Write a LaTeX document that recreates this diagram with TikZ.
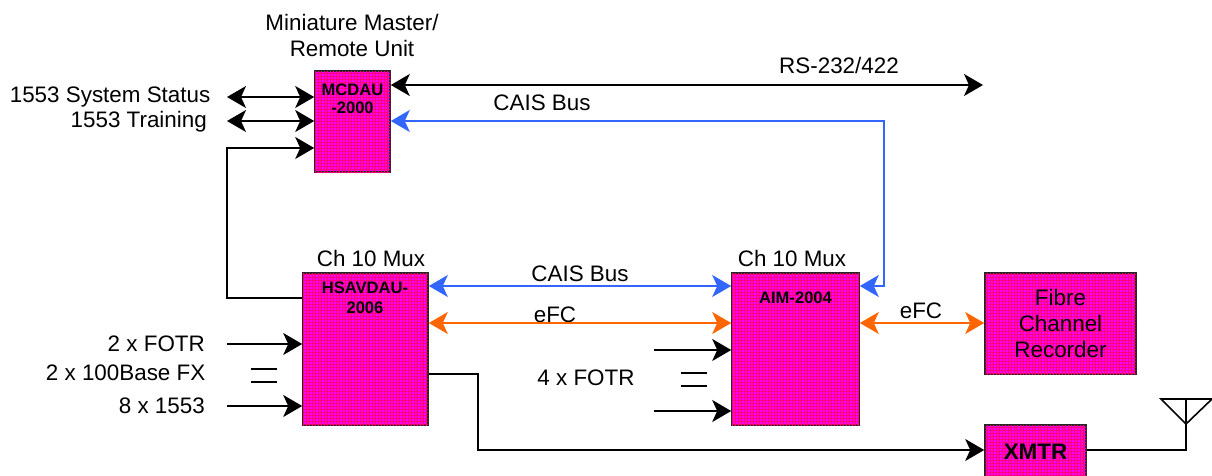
\documentclass[tikz,border=0pt]{standalone}
\usepackage{fontspec}
\setmainfont{Liberation Sans}
\usetikzlibrary{arrows.meta,patterns.meta}
\definecolor{boxmag}{RGB}{255,0,255}
\definecolor{boxred}{RGB}{255,0,110}
\definecolor{caisblue}{RGB}{51,102,255}
\definecolor{efcorange}{RGB}{255,102,0}
\tikzset{
  unitbox/.style={draw=black!85,line width=1.6pt,rectangle,inner sep=0pt,fill=boxmag,
    postaction={pattern={Lines[angle=0,distance=3pt,line width=0.55pt]},pattern color=boxred},
    postaction={pattern={Lines[angle=90,distance=3pt,line width=0.55pt]},pattern color=boxred}},
  boxtext/.style={font=\fontsize{16.6}{20}\selectfont\bfseries,align=center,inner sep=0pt},
  txt/.style={font=\fontsize{22.4}{26}\selectfont,align=center,inner sep=0pt},
  link/.style={line width=1.6pt,-{Stealth[length=19pt,width=22pt,inset=5pt]}},
  linkboth/.style={line width=1.6pt,{Stealth[length=19pt,width=22pt,inset=5pt]}-{Stealth[length=19pt,width=22pt,inset=5pt]}},
  wire/.style={line width=1.6pt}
}
\begin{document}
\begin{tikzpicture}[x=1pt,y=-1pt]
  \useasboundingbox (0,0) rectangle (1212,475);
  % boxes
  \node[unitbox,minimum width=75pt,minimum height=101pt] (mcdau) at (352.5,121.5) {};
  \node[unitbox,minimum width=125pt,minimum height=152pt] (hsav) at (365.5,349) {};
  \node[unitbox,minimum width=127pt,minimum height=152pt] (aim) at (795.5,349) {};
  \node[unitbox,minimum width=151pt,minimum height=101pt] (rec) at (1060.5,323.5) {};
  \node[unitbox,minimum width=101pt,minimum height=60pt] (xmtr) at (1035.5,455) {};
  % box texts
  \node[boxtext] (mcdaut) at (352.5,99) {MCDAU\\[-1.5pt]-2000};
  \node[boxtext] (hsavt) at (365,298) {HSAVDAU-\\2006};
  \node[boxtext] (aimt) at (795.5,298) {AIM-2004};
  \node[txt] (rect) at (1060.5,323.5) {Fibre\\Channel\\Recorder};
  \node[txt,font=\fontsize{22.4}{26}\selectfont\bfseries] (xmtrt) at (1035.5,452) {XMTR};
  % labels
  \node[txt] (mini) at (352,35) {Miniature Master/\\Remote Unit};
  \node[txt,anchor=east] (status) at (210.5,96.5) {1553 System Status};
  \node[txt,anchor=east] (training) at (207,122) {1553 Training};
  \node[txt] (rs) at (839,65) {RS-232/422};
  \node[txt] (cais1) at (542,103) {CAIS Bus};
  \node[txt] (mux1) at (371,258) {Ch 10 Mux};
  \node[txt] (mux2) at (792,258) {Ch 10 Mux};
  \node[txt] (cais2) at (580,274) {CAIS Bus};
  \node[txt] (efc1) at (555,315) {eFC};
  \node[txt] (efc2) at (921,311) {eFC};
  \node[txt,anchor=east] (fotr1) at (205,344) {2 x FOTR};
  \node[txt,anchor=east] (fx) at (205.5,373) {2 x 100Base FX};
  \node[txt,anchor=east] (b1553) at (205,406) {8 x 1553};
  \node[txt] (fotr2) at (586,378) {4 x FOTR};
  % free ends
  \coordinate (s1) at (227,97);
  \coordinate (s2) at (227,121);
  \coordinate (s3) at (983,85);
  \coordinate (h1) at (227,344);
  \coordinate (h2) at (227,406);
  \coordinate (a1) at (654,350);
  \coordinate (a2) at (654,411);
  \coordinate (e1) at (251,369);
  \coordinate (e2) at (277,369);
  \coordinate (e3) at (251,382);
  \coordinate (e4) at (277,382);
  \coordinate (e5) at (681,373);
  \coordinate (e6) at (707,373);
  \coordinate (e7) at (681,386);
  \coordinate (e8) at (707,386);
  \coordinate (ant) at (1186,399);
  \coordinate (antl) at (1161,399);
  \coordinate (antr) at (1212,399);
  \coordinate (antb) at (1186,424);
  % connectors
  \draw[linkboth] (s1) -- (mcdau.west |- s1);
  \draw[linkboth] (s2) -- (mcdau.west |- s2);
  \draw[linkboth] (mcdau.east |- s3) -- (s3);
  \draw[linkboth,caisblue] (mcdau.east |- s2) -- (884,121) -- (884,286) -- (aim.east |- 0,286);
  \draw[link] (hsav.west |- 0,298) -- (227,298) -- (227,148) -- (mcdau.west |- 0,148);
  \draw[linkboth,caisblue] (hsav.east |- 0,286) -- (aim.west |- 0,286);
  \draw[linkboth,efcorange] (hsav.east |- 0,323) -- (aim.west |- 0,323);
  \draw[linkboth,efcorange] (aim.east |- 0,323) -- (rec.west |- 0,323);
  \draw[link] (h1) -- (hsav.west |- h1);
  \draw[link] (h2) -- (hsav.west |- h2);
  \draw[link] (a1) -- (aim.west |- a1);
  \draw[link] (a2) -- (aim.west |- a2);
  \draw[wire] (e1) -- (e2);
  \draw[wire] (e3) -- (e4);
  \draw[wire] (e5) -- (e6);
  \draw[wire] (e7) -- (e8);
  \draw[link] (hsav.east |- 0,374) -- (478,374) -- (478,450) -- (xmtr.west |- 0,450);
  \draw[wire] (xmtr.east |- 0,450) -- (1186,450) -- (antb);
  \draw[wire] (antb) -- (ant);
  \draw[wire,line join=miter] (antl) -- (antr) -- (antb) -- cycle;
\end{tikzpicture}
\end{document}
